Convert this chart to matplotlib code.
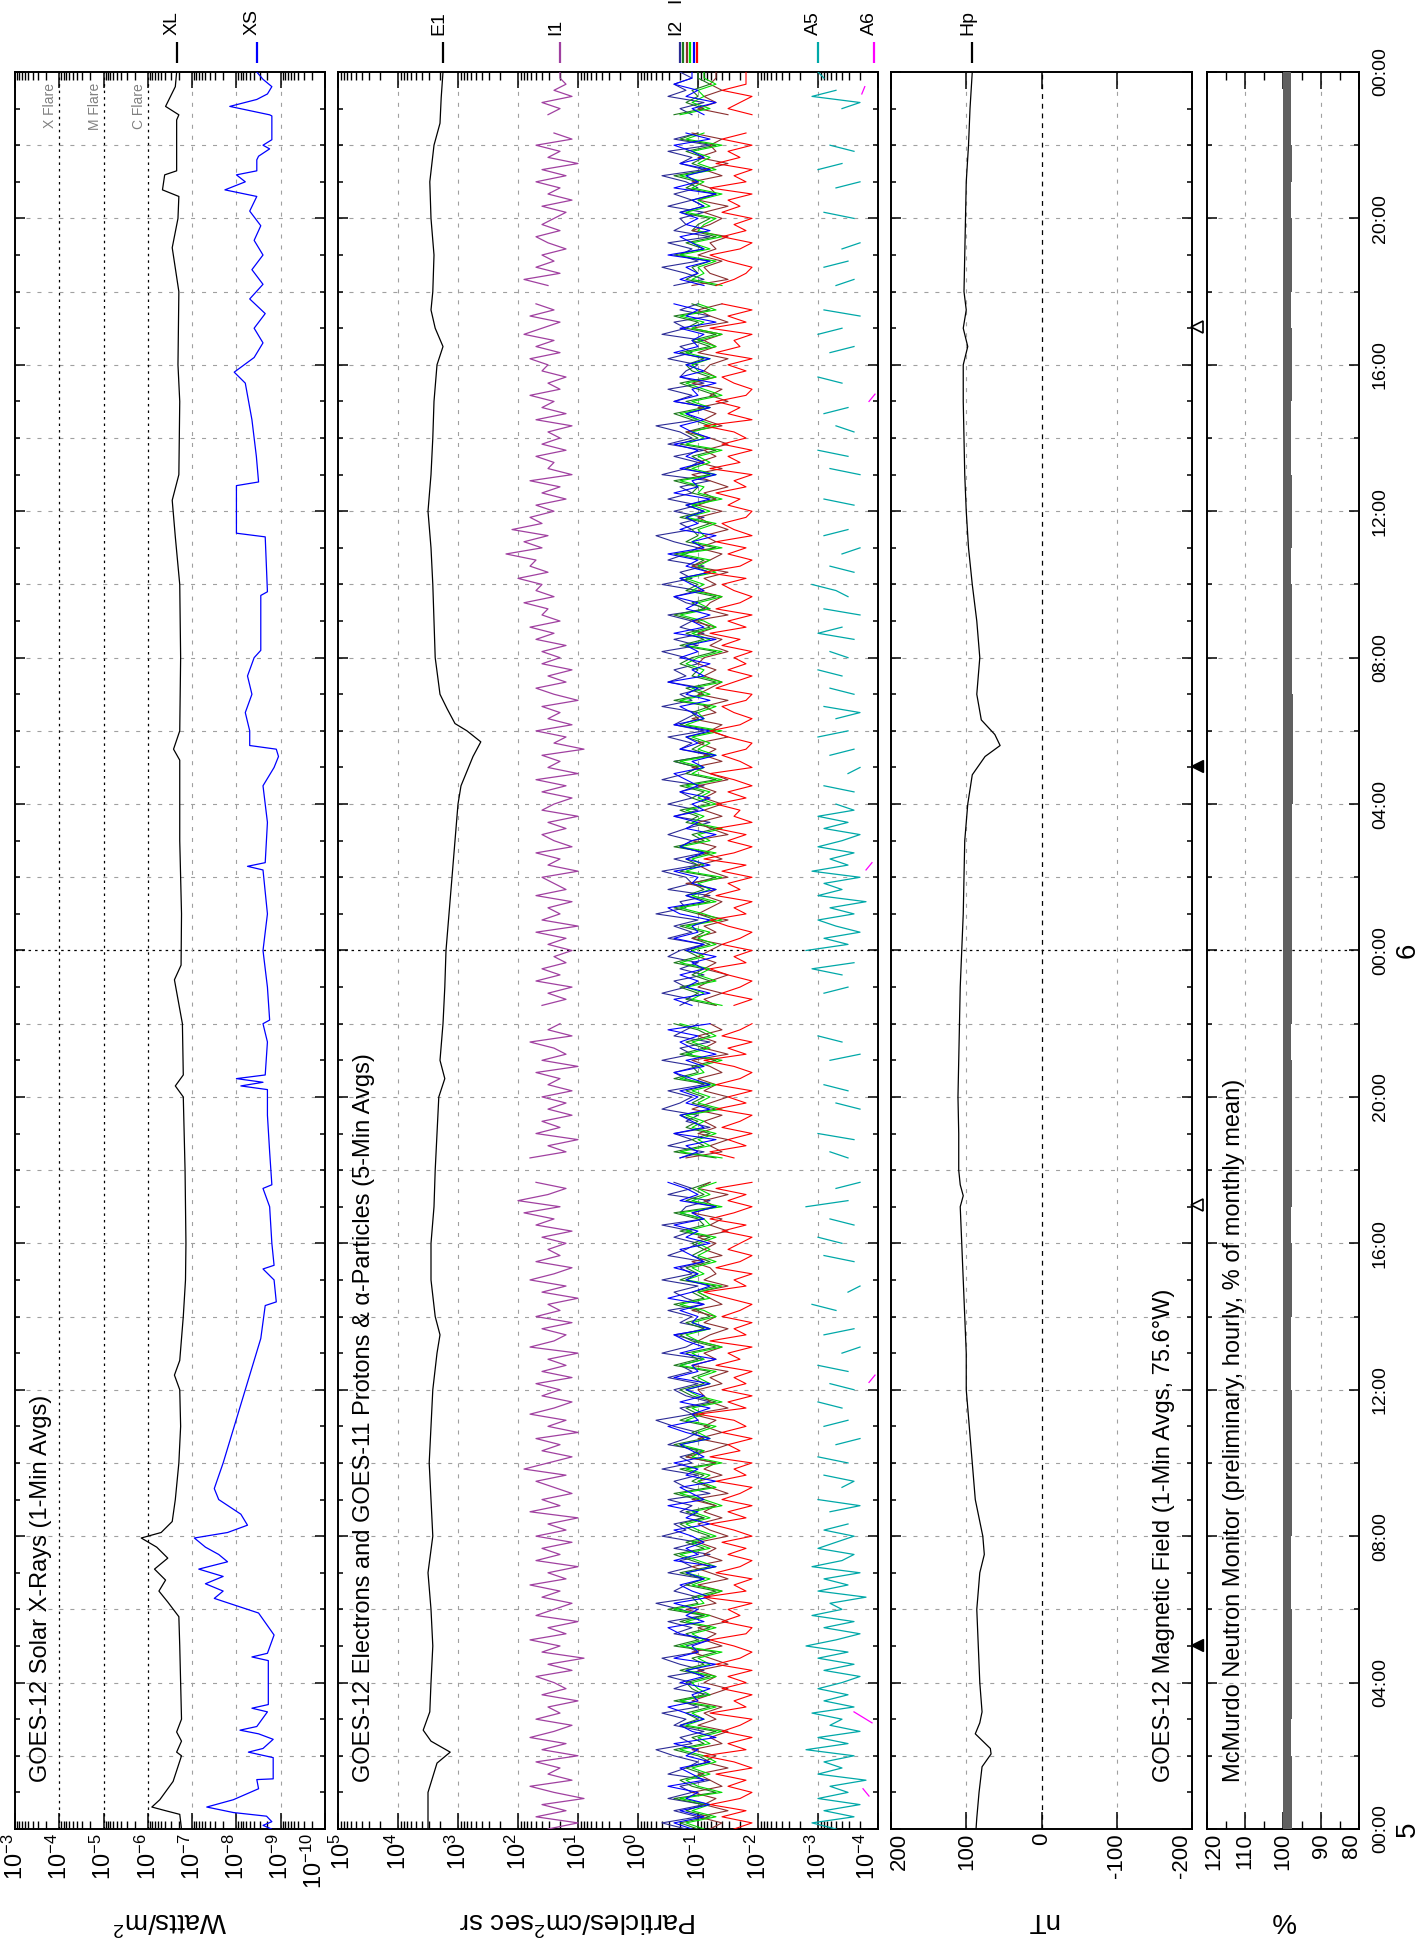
import numpy as np
import matplotlib
matplotlib.use("Agg")
import matplotlib.pyplot as plt
import matplotlib.transforms as mtransforms
from matplotlib.ticker import FixedLocator, LogLocator, NullFormatter

plt.rcParams["font.family"] = ["Liberation Sans", "DejaVu Sans"]
plt.rcParams["mathtext.fontset"] = "custom"
plt.rcParams["mathtext.rm"] = "Liberation Sans"
plt.rcParams["mathtext.it"] = "Liberation Sans:italic"
plt.rcParams["mathtext.bf"] = "Liberation Sans:bold"
plt.rcParams["lines.scale_dashes"] = False

# ---------------------------------------------------------------- data
# time is hours since 00:00 UT on day 5 (0 .. 48)

# GOES-12 X-rays, log10(W/m^2)
xl_hours = [0, 0.4, 0.5, 0.6, 0.8, 1.3, 2.0, 2.1, 2.4, 2.65, 3.0, 4, 5, 5.8, 6.2, 6.5, 6.8,
            7.1, 7.4, 7.7, 7.95, 8.1, 8.4, 9, 10, 11, 12, 12.4, 12.8, 14, 15, 16, 18, 20,
            20.3, 20.6, 22, 23.2, 23.6, 25, 27, 29.2, 29.5, 30, 32, 34, 35.3, 36.3, 37, 39,
            40, 42, 43.2, 44, 44.6, 44.78, 45.19, 45.3, 46.69, 46.83, 47.06, 47.6, 48]
xl_log = [-6.76, -6.72, -6.40, -6.09, -6.27, -6.57, -6.76, -6.65, -6.76, -6.65, -6.76,
          -6.74, -6.72, -6.70, -6.45, -6.25, -6.40, -6.15, -6.45, -6.20, -5.85, -6.30,
          -6.55, -6.62, -6.70, -6.74, -6.72, -6.60, -6.72, -6.80, -6.85, -6.86, -6.84,
          -6.80, -6.62, -6.80, -6.78, -6.60, -6.75, -6.76, -6.72, -6.72, -6.58, -6.72,
          -6.74, -6.72, -6.62, -6.55, -6.70, -6.72, -6.68, -6.70, -6.55, -6.68, -6.70,
          -6.33, -6.38, -6.65, -6.65, -6.70, -6.40, -6.62, -6.65]

xs_hours = [0, 0.1, 0.2, 0.35, 0.45, 0.6, 0.8, 1.1, 1.35, 1.37, 1.95, 2.1, 2.2, 2.45, 2.6,
            2.7, 2.8, 3.2, 3.3, 3.4, 4.6, 4.7, 4.8, 5.3, 5.9, 6.1, 6.3, 6.5, 6.7, 6.9, 7.1,
            7.3, 7.5, 7.7, 7.95, 8.1, 8.3, 8.6, 9.0, 9.3, 10, 11, 12, 13, 13.4, 14.3, 14.4,
            15, 15.3, 15.4, 16, 17, 17.5, 17.6, 18.5, 19.5, 20.2, 20.3, 20.4, 20.5, 20.6,
            21.5, 22, 22.1, 23, 24, 25, 26.2, 26.3, 26.4, 27.5, 28.5, 29.0, 29.3, 29.5,
            29.6, 30, 30.5, 31, 31.5, 32, 32.2, 33.7, 33.8, 35.3, 35.4, 36.7, 36.8, 37.5,
            38.5, 39.5, 39.8, 40.2, 40.6, 41, 41.4, 41.8, 42.2, 42.6, 43, 43.4, 43.8, 44.2,
            44.6, 44.78, 45.0, 45.19, 45.3, 45.6, 45.7, 45.9, 46.0, 46.15, 46.8, 46.83,
            47.06, 47.25, 47.4, 47.6, 47.8, 48]
xs_log = [-8.79, -8.60, -8.80, -8.68, -7.93, -7.33, -7.93, -8.50, -8.46, -8.83, -8.83,
          -8.27, -8.60, -8.83, -8.50, -8.08, -8.46, -8.70, -8.35, -8.72, -8.72, -8.35,
          -8.70, -8.85, -8.50, -8.00, -7.50, -7.70, -7.30, -7.70, -7.15, -7.80, -7.60,
          -7.30, -7.05, -7.80, -8.25, -8.10, -7.60, -7.50, -7.70, -7.95, -8.20, -8.45,
          -8.55, -8.65, -8.90, -8.85, -8.60, -8.85, -8.80, -8.75, -8.60, -8.80, -8.75,
          -8.70, -8.70, -8.10, -8.60, -8.00, -8.65, -8.70, -8.60, -8.75, -8.70, -8.60,
          -8.70, -8.60, -8.25, -8.65, -8.70, -8.60, -8.85, -8.95, -8.90, -8.30, -8.30,
          -8.20, -8.35, -8.25, -8.40, -8.55, -8.55, -8.70, -8.65, -8.00, -8.00, -8.50,
          -8.45, -8.35, -8.20, -7.95, -8.40, -8.60, -8.40, -8.65, -8.30, -8.60, -8.35,
          -8.60, -8.40, -8.55, -8.30, -8.46, -7.74, -8.20, -8.00, -8.46, -8.46, -8.50,
          -8.75, -8.60, -8.80, -8.80, -8.75, -7.85, -8.46, -8.70, -8.80, -8.60, -8.46]

# GOES-12 >2 MeV electrons, log10(particles/cm^2 s sr)
e1_hours = [0, 1.0, 1.8, 2.1, 2.4, 2.7, 3.2, 4, 5, 6, 7, 8, 9, 10, 11, 12, 13, 13.5, 14, 15,
            16, 17, 18, 19, 20, 20.5, 21, 22, 23, 24, 25, 26, 27, 28, 28.5, 29.3, 29.7,
            30.0, 30.2, 30.6, 31, 32, 33, 34, 35, 36, 37, 38, 39, 40, 40.5, 41, 41.5, 42,
            43, 44, 45, 46, 46.6, 47.3, 48]
e1_log = [3.50, 3.50, 3.35, 3.13, 3.45, 3.58, 3.47, 3.45, 3.42, 3.45, 3.50, 3.42, 3.45,
          3.48, 3.45, 3.42, 3.35, 3.30, 3.38, 3.45, 3.45, 3.40, 3.38, 3.35, 3.32, 3.22,
          3.30, 3.25, 3.22, 3.20, 3.15, 3.10, 3.05, 3.00, 2.95, 2.75, 2.62, 2.85, 3.05,
          3.18, 3.30, 3.38, 3.40, 3.42, 3.45, 3.50, 3.45, 3.42, 3.40, 3.35, 3.25, 3.38,
          3.45, 3.42, 3.40, 3.45, 3.47, 3.40, 3.30, 3.28, 3.25]

# GOES-11 protons (I1..I7) and alphas (A5), 10-minute samples starting at 00:00,
# log10 flux in tenths of a decade (None = off scale / no data)
i1_t = [15, 10, 17, 12, 16, 9, 14, 18, 11, 15, 13, 17, 10, 16, 12, 18, 14, 11, 17, 13, 15, 10, 16, 12,
        14, 17, 11, 15, 9, 16, 13, 18, 12, 15, 10, 17, 14, 11, 16, 13, 18, 12, 15, 10, 17, 13, 16, 11,
        17, 12, 15, 10, 18, 13, 16, 11, 14, 17, 12, 19, 15, 11, 16, 13, 17, 10, 15, 12, 18, 14, 11, 16,
        13, 17, 11, 16, 12, 15, 10, 18, 14, 12, 16, 11, 17, 13, 15, 10, 16, 12, 18, 14, 11, 17, 13, 15,
        12, 16, 11, 17, 14, 19, 13, 20, 15, 12, 17, 11, 16, 13, 18, 12, 15, 10, 17, 13, 16, 11, 15, 12,
        16, 11, 15, 13, 17, 10, 16, 12, 14, 18, 11, 15, 13, 17, 10, 16, 12, 15, 11, 17, 13, 16, 12, 14,
        11, 15, 12, 17, 10, 16, 13, 15, 11, 17, 12, 14, 16, 10, 15, 13, 17, 11, 14, 16, 12, 15, 10, 16,
        14, 11, 16, 12, 17, 10, 15, 13, 16, 9, 14, 12, 17, 11, 15, 13, 16, 10, 14, 17, 12, 15, 11, 16,
        13, 16, 12, 17, 14, 18, 13, 16, 15, 19, 14, 17, 16, 20, 15, 18, 17, 22, 16, 19, 15, 21, 16, 18,
        14, 17, 12, 16, 13, 18, 11, 15, 14, 17, 12, 16, 13, 15, 11, 17, 12, 16, 14, 18, 13, 15, 12, 16,
        15, 18, 13, 17, 14, 19, 16, 13, 18, 14, 17, 12, 16, 15, 19, 13, 17, 14, 16, 12, 15, 17, 13, 16,
        14, 12, 16, 11, 15, 13, 17, 12, 16, 10, 15, 13, 17, 11, 14, 16, 12, 15, 13, 16, 11, 14, 12, 13,
        13]
i2_t = [-8, -4, -10, -6, -11, -5, -9, -7, -12, -5, -8, -10, -6, -3, -9, -7, -11, -6, -8, -4, -10, -7, -12, -6,
        -9, -5, -11, -7, -4, -10, -8, -12, -6, -9, -5, -11, -7, -3, -10, -6, -8, -11, -5, -9, -7, -12, -6, -10,
        -4, -8, -6, -11, -7, -9, -5, -12, -8, -6, -10, -4, -9, -7, -11, -5, -8, -10, -6, -3, -9, -7, -12, -8,
        -6, -10, -5, -9, -7, -11, -4, -8, -10, -6, -12, -7, -9, -5, -11, -8, -6, -10, -4, -9, -7, -11, -5, -8,
        -10, -6, -9, -4, -11, -7, -8, -12, -5, -9, -6, -10, -3, -8, -7, -11, -5, -9, -6, -12, -8, -10, -4, -7,
        -9, -5, -11, -8, -6, -10, -4, -9, -7, -12, -6, -8, -10, -5, -11, -7, -9, -4, -8, -6, -11, -7, -10, -5,
        -7, -11, -5, -9, -6, -10, -3, -8, -7, -12, -5, -9, -8, -4, -10, -6, -11, -7, -9, -5, -8, -12, -6, -10,
        -5, -9, -7, -11, -4, -8, -10, -6, -12, -7, -9, -5, -11, -6, -8, -10, -4, -9, -7, -11, -5, -8, -6, -10,
        -8, -4, -10, -6, -11, -7, -9, -5, -12, -8, -6, -10, -4, -9, -7, -11, -5, -8, -10, -6, -3, -9, -7, -11,
        -6, -10, -5, -9, -7, -12, -4, -8, -10, -6, -11, -5, -9, -7, -3, -10, -8, -12, -6, -9, -5, -11, -7, -8,
        -10, -5, -9, -7, -11, -4, -8, -6, -12, -7, -10, -5, -9, -6, -11, -8, -4, -10, -7, -9, -5, -12, -6, -8,
        -7, -11, -5, -9, -6, -10, -8, -4, -11, -7, -9, -5, -12, -6, -10, -8, -4, -9, -7, -11, -5, -8, -6, -9,
        -7]
i3_t = [-10, -7, -12, -8, -11, -6, -13, -9, -7, -11, -8, -12, -10, -6, -11, -9, -13, -7, -10, -8, -12, -6, -11, -9,
        -8, -12, -7, -11, -9, -13, -6, -10, -8, -12, -7, -11, -5, -10, -9, -13, -8, -11, -7, -12, -9, -6, -11, -8,
        -12, -9, -7, -11, -8, -13, -10, -6, -12, -9, -11, -7, -13, -8, -10, -6, -11, -9, -12, -7, -10, -8, -13, -9,
        -7, -11, -9, -12, -6, -10, -8, -13, -9, -7, -11, -8, -12, -10, -6, -11, -9, -13, -7, -10, -8, -12, -9, -11,
        -9, -12, -7, -11, -10, -6, -13, -8, -11, -9, -12, -7, -10, -8, -13, -6, -11, -9, -12, -8, -10, -7, -13, -9,
        -11, -8, -12, -6, -10, -9, -13, -7, -11, -8, -12, -10, -6, -11, -9, -13, -8, -10, -7, -12, -9, -11, -6, -10,
        -8, -12, -9, -11, -7, -13, -10, -6, -12, -8, -11, -9, -13, -7, -10, -8, -12, -6, -11, -9, -13, -8, -10, -7,
        -12, -9, -11, -7, -13, -8, -10, -6, -12, -9, -11, -8, -13, -7, -10, -9, -12, -6, -11, -8, -13, -9, -10, -7,
        -9, -13, -7, -11, -8, -12, -10, -6, -11, -9, -13, -8, -10, -7, -12, -9, -11, -6, -13, -8, -10, -9, -12, -7,
        -11, -8, -13, -9, -10, -6, -12, -8, -11, -9, -13, -7, -10, -8, -12, -9, -6, -11, -8, -13, -10, -7, -12, -9,
        -8, -11, -7, -12, -9, -13, -8, -10, -6, -12, -9, -11, -7, -13, -8, -10, -9, -12, -6, -11, -8, -13, -9, -10,
        -12, -7, -11, -9, -13, -8, -10, -6, -12, -9, -11, -8, -13, -7, -10, -9, -12, -6, -11, -8, -10, -9, -12, -10,
        -10]
i4_t = [-12, -14, -10, -15, -11, -13, -9, -14, -12, -10, -15, -11, -13, -9, -14, -12, -15, -10, -13, -11, -14, -9, -12, -15,
        -11, -13, -10, -15, -12, -9, -14, -11, -13, -10, -15, -12, -8, -13, -11, -14, -10, -15, -12, -9, -14, -11, -13, -10,
        -15, -12, -10, -14, -11, -13, -9, -15, -12, -10, -14, -11, -13, -8, -12, -15, -10, -14, -11, -13, -9, -15, -12, -11,
        -10, -14, -12, -15, -9, -13, -11, -14, -10, -12, -15, -11, -13, -9, -14, -12, -10, -15, -11, -13, -12, -9, -14, -11,
        -13, -10, -15, -12, -14, -9, -13, -11, -15, -10, -12, -14, -11, -13, -8, -14, -12, -15, -10, -13, -11, -14, -9, -12,
        -15, -11, -13, -10, -14, -12, -9, -15, -11, -13, -10, -14, -12, -15, -9, -13, -11, -14, -10, -12, -15, -11, -13, -10,
        -12, -14, -9, -13, -11, -15, -10, -12, -14, -11, -13, -8, -15, -12, -10, -14, -11, -13, -9, -15, -12, -10, -14, -11,
        -14, -11, -13, -10, -15, -12, -9, -14, -11, -13, -10, -15, -12, -14, -9, -13, -11, -15, -10, -12, -14, -11, -13, -10,
        -11, -15, -12, -14, -10, -13, -9, -15, -11, -12, -14, -10, -13, -11, -15, -9, -12, -14, -10, -13, -11, -15, -12, -10,
        -14, -10, -13, -11, -15, -12, -9, -14, -10, -13, -11, -15, -12, -8, -14, -11, -13, -10, -15, -12, -14, -9, -13, -11,
        -12, -15, -10, -13, -11, -14, -9, -15, -12, -10, -14, -11, -13, -9, -15, -12, -11, -14, -10, -13, -12, -15, -9, -12,
        -14, -11, -15, -10, -13, -12, -9, -14, -11, -15, -10, -13, -12, -14, -9, -12, -11, -15, -10, -13, -11, -14, -12, -13,
        -13]
i5_t = [-11, -8, -13, -9, -12, -7, -14, -10, -8, -12, -9, -13, -11, -7, -12, -10, -14, -8, -11, -9, -13, -7, -12, -10,
        -9, -13, -8, -12, -10, -14, -7, -11, -9, -13, -8, -12, -6, -11, -10, -14, -9, -12, -8, -13, -10, -7, -12, -9,
        -13, -10, -8, -12, -9, -14, -11, -7, -13, -10, -12, -8, -14, -9, -11, -7, -12, -10, -13, -8, -11, -9, -14, -10,
        -8, -12, -10, -13, -7, -11, -9, -14, -10, -8, -12, -9, -13, -11, -7, -12, -10, -14, -8, -11, -9, -13, -10, -12,
        -10, -13, -8, -12, -11, -7, -14, -9, -12, -10, -13, -8, -11, -9, -14, -7, -12, -10, -13, -9, -11, -8, -14, -10,
        -12, -9, -13, -7, -11, -10, -14, -8, -12, -9, -13, -11, -7, -12, -10, -14, -9, -11, -8, -13, -10, -12, -7, -11,
        -9, -13, -10, -12, -8, -14, -11, -7, -13, -9, -12, -10, -14, -8, -11, -9, -13, -7, -12, -10, -14, -9, -11, -8,
        -13, -10, -12, -8, -14, -9, -11, -7, -13, -10, -12, -9, -14, -8, -11, -10, -13, -7, -12, -9, -14, -10, -11, -8,
        -10, -14, -8, -12, -9, -13, -11, -7, -12, -10, -14, -9, -11, -8, -13, -10, -12, -7, -14, -9, -11, -10, -13, -8,
        -12, -9, -14, -10, -11, -7, -13, -9, -12, -10, -14, -8, -11, -9, -13, -10, -7, -12, -9, -14, -11, -8, -13, -10,
        -9, -12, -8, -13, -10, -14, -9, -11, -7, -13, -10, -12, -8, -14, -9, -11, -10, -13, -7, -12, -9, -14, -10, -11,
        -13, -8, -12, -10, -14, -9, -11, -7, -13, -10, -12, -9, -14, -8, -11, -10, -13, -7, -12, -9, -11, -10, -13, -11,
        -11]
i6_t = [-9, -6, -11, -7, -12, -8, -10, -5, -11, -9, -7, -12, -8, -10, -6, -13, -9, -7, -11, -8, -5, -10, -9, -12,
        -7, -11, -8, -13, -6, -10, -9, -12, -7, -5, -11, -8, -10, -6, -12, -9, -7, -11, -8, -13, -6, -10, -8, -11,
        -9, -6, -12, -8, -10, -5, -11, -9, -7, -13, -8, -10, -6, -11, -9, -7, -12, -8, -5, -10, -9, -12, -7, -11,
        -8, -12, -6, -10, -9, -13, -7, -11, -8, -6, -12, -9, -10, -7, -11, -5, -9, -12, -8, -10, -6, -11, -9, -7,
        -12, -8, -10, -6, -11, -9, -13, -7, -10, -8, -5, -11, -9, -12, -7, -10, -8, -13, -6, -11, -9, -7, -12, -8,
        -10, -7, -12, -9, -6, -11, -8, -13, -9, -7, -10, -5, -12, -8, -11, -9, -6, -12, -8, -10, -7, -11, -9, -13,
        -8, -11, -6, -10, -9, -12, -7, -5, -11, -8, -13, -9, -10, -6, -12, -8, -11, -7, -9, -13, -8, -10, -6, -11,
        -9, -12, -7, -10, -8, -6, -11, -9, -13, -7, -10, -8, -12, -6, -11, -9, -7, -12, -8, -10, -5, -11, -9, -12,
        -7, -10, -8, -13, -6, -11, -9, -12, -8, -10, -6, -11, -9, -7, -12, -8, -10, -5, -11, -9, -13, -7, -10, -8,
        -11, -8, -12, -6, -10, -9, -13, -7, -11, -8, -10, -6, -12, -9, -7, -11, -8, -12, -6, -10, -9, -13, -7, -11,
        -8, -12, -6, -10, -9, -11, -7, -13, -8, -10, -6, -12, -9, -11, -7, -10, -8, -12, -5, -11, -9, -7, -12, -8,
        -10, -7, -11, -9, -13, -6, -10, -8, -12, -7, -11, -9, -6, -12, -8, -10, -7, -11, -9, -13, -8, -10, -6, -9,
        -9]
i7_t = [-16, -19, -14, -18, -12, -17, -19, -15, -18, -13, -19, -16, -11, -18, -15, -19, -14, -17, -19, -12, -18, -16, -19, -14,
        -18, -15, -19, -13, -17, -19, -16, -12, -18, -19, -14, -17, -15, -19, -11, -18, -16, -19, -13, -17, -19, -15, -18, -14,
        -19, -16, -12, -18, -15, -19, -14, -17, -19, -13, -18, -16, -19, -12, -17, -15, -19, -14, -18, -16, -10, -18, -15, -19,
        -14, -18, -16, -19, -13, -17, -15, -19, -12, -18, -16, -19, -14, -17, -19, -15, -11, -18, -16, -19, -13, -17, -19, -15,
        -17, -19, -14, -18, -12, -16, -19, -15, -18, -13, -19, -17, -14, -19, -16, -12, -18, -15, -19, -14, -17, -19, -13, -18,
        -15, -19, -13, -17, -19, -16, -11, -18, -15, -19, -14, -17, -19, -12, -18, -16, -19, -14, -17, -19, -15, -12, -18, -16,
        -19, -14, -17, -19, -15, -12, -18, -16, -19, -13, -17, -15, -19, -14, -18, -11, -16, -19, -15, -18, -13, -19, -16, -17,
        -13, -18, -15, -19, -16, -12, -19, -17, -14, -18, -19, -15, -12, -17, -19, -16, -14, -18, -19, -13, -16, -19, -15, -18,
        -16, -19, -14, -17, -12, -18, -15, -19, -13, -17, -19, -16, -14, -18, -11, -17, -19, -15, -18, -13, -19, -16, -14, -18,
        -19, -15, -17, -13, -18, -16, -19, -12, -17, -15, -19, -14, -18, -16, -11, -19, -15, -17, -13, -18, -19, -16, -14, -18,
        -15, -19, -13, -17, -16, -19, -12, -18, -15, -19, -14, -17, -19, -13, -16, -18, -19, -15, -12, -17, -19, -14, -18, -16,
        -19, -14, -17, -15, -19, -12, -18, -16, -19, -13, -17, -15, -19, -14, -18, -11, -16, -19, -15, -17, -19, -14, -18, -18,
        -18]
a5_t = [-33, -29, -36, -31, -37, -30, -35, -32, -38, -30, -34, -31, -36, -28, -35, -30, -37, -32, -34, -29, -36, -31, -35, -30,
        -34, -37, -31, -36, -30, -35, -28, -33, -37, -31, -36, -29, -34, -32, -38, -30, -35, -31, -37, -29, -34, -36, -30, -33,
        -36, -31, -35, None, -32, -37, -30, None, -34, -36, -31, None, -35, -30, None, -33, -37, None, -31, -35, None, -34, -30, None,
        -36, -32, None, -35, -30, None, -34, -37, None, -31, -36, None, None, -33, -29, None, -35, -37, None, -32, None, -36, -31, None,
        -34, -30, None, -36, -32, None, -28, -35, None, -33, -37, None, -31, None, -35, -32, None, -36, -30, None, -34, None, -37, -33,
        None, -35, -31, None, -36, None, -32, -37, None, -34, -30, None, -36, None, -33, -37, None, -31, -35, None, -34, -29, -36, None,
        -28, -35, -31, -37, -33, -30, -36, -32, -38, -30, -34, -31, -37, -29, -35, -32, -36, -30, -34, -37, -31, -35, -30, -36,
        -33, None, -36, -31, None, -35, -37, None, -32, -36, None, -30, -35, None, -33, -37, -31, None, -36, -32, None, -34, -30, None,
        -35, -32, None, -36, -30, -34, None, -37, -31, None, -35, -33, -29, None, -36, -32, None, -34, -37, None, -31, -35, None, -33,
        None, -36, -31, None, -34, None, -37, -32, None, -35, -30, None, None, -36, -33, None, -31, -35, None, -37, None, -34, -30, None,
        -35, None, -32, -36, None, -30, -34, None, -37, -31, None, -35, None, -33, -36, None, -31, -35, None, -34, -37, None, -32, None,
        -36, -31, None, -35, None, -33, -37, None, -30, -34, None, -36, -32, None, -35, -31, None, None, -34, -37, -29, -33, None, -31,
        -30]
# alpha channel A6: only a few short on-scale stretches
a6_hours = [0.9, 1.1, None, 2.9, 3.2, None, 12.2, 12.4, None, 26.2, 26.4, None,
            39.0, 39.2, None, 47.4, 47.6]
a6_log = [-3.85, -3.75, None, -3.90, -3.60, None, -3.85, -3.95, None, -3.80, -3.90, None,
          -3.85, -3.95, None, -3.73, -3.78]
a6_key_log = -3.93
# GOES-11 data dropouts (centre hour)
proton_gap_hours = [18.0, 22.3, 41.9, 46.55]

# GOES-12 Hp magnetic field component, nT
hp_hours = [0, 0.3, 1, 1.7, 2.05, 2.2, 2.4, 2.6, 2.9, 3.2, 4, 5, 6, 7, 7.5, 8, 9, 10, 11,
            12, 13, 14, 15, 16, 17, 17.3, 17.6, 18, 19, 20, 21, 22, 23, 24, 25, 26, 27, 28,
            28.8, 29.3, 29.6, 29.9, 30.3, 31, 32, 33, 34, 35, 36, 37, 38, 39, 40, 40.5, 41,
            41.5, 42, 43, 44, 45, 46, 47, 48]
hp_nt = [87, 86, 83, 79, 67, 68, 78, 88, 82, 79, 82, 84, 86, 82, 76, 78, 88, 92, 96, 100,
         100, 102, 104, 106, 108, 104, 108, 110, 110, 111, 110, 109, 108, 106, 104, 103,
         102, 98, 92, 75, 55, 62, 80, 86, 82, 86, 92, 97, 100, 102, 103, 104, 104, 98, 104,
         100, 103, 102, 101, 100, 97, 95, 92]

# McMurdo neutron monitor, hourly, % of monthly mean
neutron_pct = [97.7, 97.7, 97.8, 97.7, 97.6, 97.7, 97.8, 97.8, 97.7, 97.7, 97.6, 97.7,
               97.8, 97.8, 97.7, 97.7, 97.8, 97.7, 97.6, 97.7, 97.7, 97.8, 97.7, 97.7,
               97.6, 97.6, 97.7, 97.6, 97.4, 97.3, 97.5, 97.6, 97.7, 97.7, 97.8, 97.7,
               97.7, 97.8, 97.8, 97.7, 97.7, 97.8, 97.7, 97.7, 97.8, 97.7, 97.8, 97.8]

# GOES-12 local midnight / local noon markers (75.6 W)
local_midnight_hours = [5.04, 29.04]
local_noon_hours = [17.04, 41.04]

time_tick_labels = ["00:00", "04:00", "08:00", "12:00", "16:00", "20:00", "00:00",
                    "04:00", "08:00", "12:00", "16:00", "20:00", "00:00"]
day_labels = {0: "5", 24: "6"}

# ---------------------------------------------------------------- helpers
W, H = 1421, 1944
fig = plt.figure(figsize=(W / 100, H / 100), dpi=100)
GREY = "#a0a0a0"
GRID_DASH = (0, (2.9, 5.0))
BLACK_DASH = (0, (1.8, 2.9))
LW = 0.9


def to_arr(vals, scale=1.0):
    return np.array([np.nan if v is None else v * scale for v in vals], dtype=float)


def px_rect(x0, x1, y0, y1):
    return [x0 / W, 1 - y1 / H, (x1 - x0) / W, (y1 - y0) / H]


def setup_time(ax, minor_step=1):
    ax.set_ylim(0, 48)
    ax.yaxis.set_major_locator(FixedLocator(list(range(0, 49, 4))))
    ax.yaxis.set_minor_locator(FixedLocator([h for h in range(0, 49, minor_step) if h % 4]))
    ax.tick_params(axis="y", which="major", direction="in", length=7, width=1.1,
                   left=True, right=True, labelleft=False, labelright=False)
    ax.tick_params(axis="y", which="minor", direction="in", length=3.6, width=1.1,
                   left=True, right=True)
    for h in range(2, 48, 2):
        if h == 24:
            ax.axhline(h, color="black", lw=0.9, ls=BLACK_DASH, zorder=1)
        else:
            ax.axhline(h, color=GREY, lw=0.8, ls=GRID_DASH, zorder=1)
    for s in ax.spines.values():
        s.set_linewidth(1.4)


def setup_values(ax, major_len=11.5, minor_len=5.8):
    ax.tick_params(axis="x", which="major", direction="in", length=major_len, width=1.1,
                   top=True, bottom=True, labelbottom=False, labeltop=False)
    ax.tick_params(axis="x", which="minor", direction="in", length=minor_len, width=1.0,
                   top=True, bottom=True)


def value_labels(ax, values, texts, size, shift_px=None):
    shift_px = shift_px or {}
    base = mtransforms.blended_transform_factory(ax.transData, ax.transAxes)
    for v, t in zip(values, texts):
        dx = shift_px.get(v, 0)
        tr = base + mtransforms.ScaledTranslation(dx / 100, -4 / 100, fig.dpi_scale_trans)
        ax.text(v, 0, t, transform=tr, rotation=90, ha="center", va="top",
                fontsize=size, clip_on=False)


def key_mark(ax, value, text, color, dx_px=0, show_text=True):
    base = mtransforms.blended_transform_factory(ax.transData, fig.transFigure)
    tr = base + mtransforms.ScaledTranslation(dx_px / 100, 0, fig.dpi_scale_trans)
    ax.plot([value, value], [1 - 63 / H, 1 - 42 / H], color=color, lw=1.6,
            transform=tr, clip_on=False, solid_capstyle="butt")
    if show_text:
        ax.text(value, 1 - 35 / H, text, transform=tr, rotation=90, ha="left",
                va="baseline", rotation_mode="anchor", fontsize=14, clip_on=False)


def panel_title(x_px, text):
    fig.text(x_px / W, 1 - 1782 / H, text, rotation=90, ha="left", va="center",
             rotation_mode="anchor", fontsize=17)


# ---------------------------------------------------------------- X-ray panel
ax_x = fig.add_axes(px_rect(15, 325, 72, 1829))
ax_x.set_xscale("log")
ax_x.set_xlim(1e-3, 1e-10)
setup_time(ax_x)
ax_x.xaxis.set_major_locator(FixedLocator([10.0 ** k for k in range(-10, -2)]))
ax_x.xaxis.set_minor_locator(LogLocator(base=10, subs=range(2, 10), numticks=40))
ax_x.xaxis.set_minor_formatter(NullFormatter())
setup_values(ax_x)
for k in (-4, -5, -6):
    ax_x.axvline(10.0 ** k, color="black", lw=0.9, ls=BLACK_DASH, zorder=1)
for k in (-7, -8, -9):
    ax_x.axvline(10.0 ** k, color=GREY, lw=0.8, ls=GRID_DASH, zorder=1)
for k, name in ((-4, "X Flare"), (-5, "M Flare"), (-6, "C Flare")):
    ax_x.annotate(name, xy=(10.0 ** k, 48), xytext=(-6.5, -8), textcoords="offset points",
                  rotation=90, ha="right", va="center", rotation_mode="anchor",
                  fontsize=10, color="#808080")
xlv = 10.0 ** to_arr(xl_log)
xsv = 10.0 ** to_arr(xs_log)
ax_x.plot(xlv, xl_hours, color="black", lw=LW, zorder=3)
ax_x.plot(xsv, xs_hours, color="#0000ff", lw=LW, zorder=3)
value_labels(ax_x, [10.0 ** k for k in range(-3, -11, -1)],
             [r"$10^{%d}$" % k for k in range(-3, -11, -1)], 17, {1e-10: -11})
key_mark(ax_x, xlv[-1], "XL", "black")
key_mark(ax_x, xsv[-1], "XS", "#0000ff")

# ---------------------------------------------------------------- particle panel
ax_p = fig.add_axes(px_rect(338, 878, 72, 1829))
ax_p.set_xscale("log")
ax_p.set_xlim(1e5, 1e-4)
setup_time(ax_p)
ax_p.xaxis.set_major_locator(FixedLocator([10.0 ** k for k in range(-4, 6)]))
ax_p.xaxis.set_minor_locator(LogLocator(base=10, subs=range(2, 10), numticks=40))
ax_p.xaxis.set_minor_formatter(NullFormatter())
setup_values(ax_p)
for k in range(-3, 5):
    ax_p.axvline(10.0 ** k, color=GREY, lw=0.8, ls=GRID_DASH, zorder=1)

grid_hours = np.arange(len(i2_t)) / 6.0
gap_mask = np.zeros(len(grid_hours), dtype=bool)
for g in proton_gap_hours:
    gap_mask |= np.abs(grid_hours - g) < 0.18


def proton_series(vals):
    arr = 10.0 ** to_arr(vals, 0.1)
    arr[gap_mask] = np.nan
    return arr


e1v = 10.0 ** np.array(e1_log)
ax_p.plot(e1v, e1_hours, color="black", lw=LW, zorder=3)
i1v = proton_series(i1_t)
ax_p.plot(i1v, grid_hours, color="#a040a0", lw=LW, zorder=3)
proton_channels = [("I2", i2_t, "#2c2c96"), ("I3", i3_t, "#1f7a1f"),
                   ("I4", i4_t, "#8b3030"), ("I5", i5_t, "#00dd00"),
                   ("I6", i6_t, "#0000ff"), ("I7", i7_t, "#ff0000")]
proton_lines = []
for name, vals, col in proton_channels:
    v = proton_series(vals)
    proton_lines.append(v)
    ax_p.plot(v, grid_hours, color=col, lw=0.8, zorder=3)
a5v = proton_series(a5_t)
ax_p.plot(a5v, grid_hours, color="#00a8a8", lw=LW, zorder=3)
a6v = 10.0 ** to_arr(a6_log)
ax_p.plot(a6v, to_arr(a6_hours), color="#ff00ff", lw=LW, zorder=3)

value_labels(ax_p, [10.0 ** k for k in range(5, -5, -1)],
             [r"$10^{%d}$" % k for k in range(5, -5, -1)], 17, {1e5: 4, 1e-4: -11})
key_mark(ax_p, e1v[-1], "E1", "black")
key_mark(ax_p, i1v[-1], "I1", "#a040a0")
for j, (name, vals, col) in enumerate(proton_channels):
    key_mark(ax_p, proton_lines[0][-1], name, col, dx_px=3.4 * j, show_text=False)
base_key = mtransforms.blended_transform_factory(ax_p.transData, fig.transFigure)
ax_p.text(proton_lines[0][-1], 1 - 35 / H, "I2", transform=base_key, rotation=90,
          ha="left", va="baseline", rotation_mode="anchor", fontsize=14, clip_on=False)
ax_p.text(proton_lines[0][-1], 1 - 3 / H, "I3", transform=base_key, rotation=90,
          ha="left", va="baseline", rotation_mode="anchor", fontsize=14, clip_on=False)
key_mark(ax_p, a5v[-1], "A5", "#00a8a8")
key_mark(ax_p, 10.0 ** a6_key_log, "A6", "#ff00ff")

# ---------------------------------------------------------------- magnetometer panel
ax_m = fig.add_axes(px_rect(891, 1192, 72, 1829))
ax_m.set_xlim(200, -200)
setup_time(ax_m)
ax_m.xaxis.set_major_locator(FixedLocator([200, 100, 0, -100, -200]))
setup_values(ax_m, major_len=12.5)
for v in (100, -100):
    ax_m.axvline(v, color=GREY, lw=0.8, ls=GRID_DASH, zorder=1)
ax_m.axvline(0, color="black", lw=0.9, ls=(0, (3.5, 3.5)), zorder=1)
ax_m.plot(hp_nt, hp_hours, color="black", lw=LW, zorder=3)
value_labels(ax_m, [200, 100, 0, -100, -200], ["200", "100", "0", "-100", "-200"], 16,
             {200: 8, -200: -11})
key_mark(ax_m, hp_nt[-1], "Hp", "black")
mark_tr = mtransforms.blended_transform_factory(ax_m.transAxes, ax_m.transData)
ax_m.plot([1.018] * len(local_midnight_hours), local_midnight_hours, ls="none",
          marker="<", ms=8, color="black", transform=mark_tr, clip_on=False)
ax_m.plot([1.018] * len(local_noon_hours), local_noon_hours, ls="none", marker="<",
          ms=8, mfc="white", mec="black", mew=1.2, transform=mark_tr, clip_on=False)

# ---------------------------------------------------------------- neutron monitor panel
ax_n = fig.add_axes(px_rect(1207, 1359, 72, 1829))
ax_n.set_xlim(120, 80)
setup_time(ax_n, minor_step=2)
ax_n.xaxis.set_major_locator(FixedLocator([120, 110, 100, 90, 80]))
ax_n.xaxis.set_minor_locator(FixedLocator([115, 105, 95, 85]))
setup_values(ax_n, major_len=12.5)
for v in (110, 90):
    ax_n.axvline(v, color=GREY, lw=0.8, ls=GRID_DASH, zorder=1)
neut = np.array(neutron_pct)
ax_n.barh(np.arange(len(neut)) + 0.5, neut - 100, left=100, height=1.0,
          color="#606060", linewidth=0, zorder=3)
value_labels(ax_n, [120, 110, 100, 90, 80], ["120", "110", "100", "90", "80"], 16,
             {120: 7, 80: -7})

# time labels along the right edge
tl_tr = mtransforms.blended_transform_factory(ax_n.transAxes, ax_n.transData)
for h, lab in zip(range(0, 49, 4), time_tick_labels):
    ax_n.text(1, h, lab, transform=tl_tr + mtransforms.ScaledTranslation(
        13 / 100, 0, fig.dpi_scale_trans), rotation=90, ha="left", va="center",
        fontsize=14, clip_on=False)
for h, lab in day_labels.items():
    ax_n.text(1, h, lab, transform=tl_tr + mtransforms.ScaledTranslation(
        36 / 100, 0, fig.dpi_scale_trans), rotation=90, ha="left", va="center",
        fontsize=20, clip_on=False)

# ---------------------------------------------------------------- titles and axis names
panel_title(41, "GOES-12 Solar X-Rays (1-Min Avgs)")
panel_title(364, "GOES-12 Electrons and GOES-11 Protons & \u03b1-Particles (5-Min Avgs)")
panel_title(1164, "GOES-12 Magnetic Field (1-Min Avgs, 75.6\u00b0W)")
panel_title(1234, "McMurdo Neutron Monitor (preliminary, hourly, % of monthly mean)")

for x_px, text in ((170, r"Watts/m$^2$"), (578, r"Particles/cm$^2$sec sr"),
                   (1042, "nT"), (1283, "%")):
    fig.text(x_px / W, 1 - 1920 / H, text, rotation=180, ha="center", va="center",
             fontsize=20)

fig.savefig("out.png", dpi=100)
